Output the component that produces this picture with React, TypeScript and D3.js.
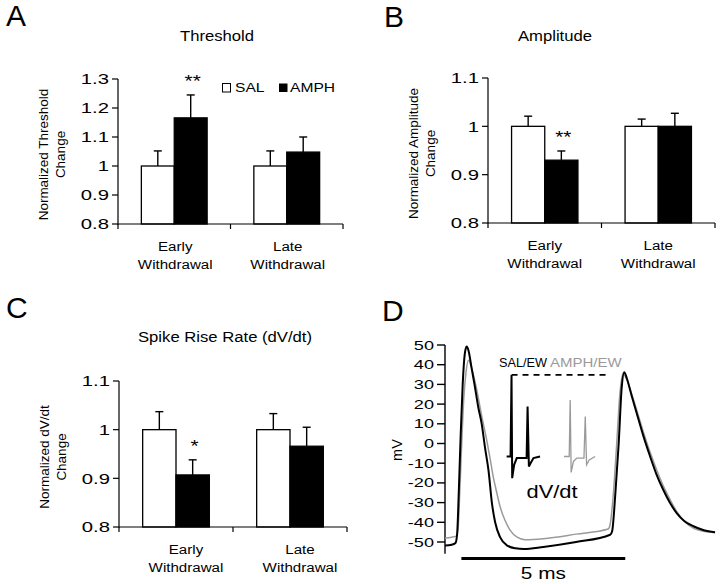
import React from "react";
import * as d3 from "d3";

// ---------- data ----------
const categoriesLine1 = ["Early", "Late"];
const categoriesLine2 = ["Withdrawal", "Withdrawal"];
const seriesNames = ["SAL", "AMPH"];

const thresholdTicks = [0.8, 0.9, 1, 1.1, 1.2, 1.3];
const unitTicks = [0.8, 0.9, 1, 1.1];
const mvTicks = [50, 40, 30, 20, 10, 0, -10, -20, -30, -40, -50];

const thresholdSal = [1.0, 1.0];
const thresholdSalErr = [0.052, 0.052];
const thresholdAmph = [1.166, 1.048];
const thresholdAmphErr = [0.079, 0.052];
const thresholdSig = ["**", ""];

const amplitudeSal = [1.0, 1.0];
const amplitudeSalErr = [0.021, 0.015];
const amplitudeAmph = [0.93, 1.0];
const amplitudeAmphErr = [0.019, 0.027];
const amplitudeSig = ["**", ""];

const riseSal = [1.0, 1.0];
const riseSalErr = [0.037, 0.033];
const riseAmph = [0.907, 0.966];
const riseAmphErr = [0.031, 0.039];
const riseSig = ["*", ""];

// action potential traces: [time ms, mV]
const salTrace: [number, number][] = [
  [0, -51.8], [0.2, -51.4], [0.32, -50.5], [0.37, -46], [0.42, -25], [0.48, 5], [0.54, 30],
  [0.6, 45], [0.66, 49.2], [0.72, 47], [0.81, 38.5], [0.9, 30], [1.02, 18], [1.12, 10],
  [1.22, -2], [1.33, -14], [1.43, -30], [1.53, -40], [1.68, -47.5], [1.9, -51.8], [2.15, -53.2],
  [2.4, -53.6], [3.0, -52.5], [4.0, -50.0], [5.04, -46.3], [5.1, -44.5], [5.2, -25], [5.3, 0],
  [5.39, 28], [5.47, 36.2], [5.55, 33], [5.7, 24], [5.85, 15.4], [6.05, 4], [6.26, -6.6],
  [6.45, -15.5], [6.66, -23.5], [6.86, -30], [7.07, -35.3], [7.3, -39.3], [7.58, -42],
  [7.9, -44], [8.24, -45],
];
const amphTrace: [number, number][] = [
  [0, -48], [0.2, -47.6], [0.34, -47], [0.4, -43], [0.45, -25], [0.51, 0], [0.57, 22],
  [0.64, 36], [0.72, 42.2], [0.8, 39], [0.97, 27.2], [1.12, 14], [1.27, 1.9], [1.37, -7],
  [1.47, -16.7], [1.58, -25], [1.68, -32], [1.83, -39], [1.98, -43.8], [2.2, -47.5],
  [2.45, -48.8], [3.0, -48.3], [4.0, -46], [4.98, -43.4], [5.04, -41], [5.14, -25], [5.24, 0],
  [5.33, 24], [5.44, 35.6], [5.52, 33.5], [5.68, 26], [5.85, 17], [6.05, 6], [6.26, -4.5],
  [6.46, -13.5], [6.66, -21.5], [6.87, -28.5], [7.07, -34.5], [7.3, -39.5], [7.6, -43.2],
  [7.9, -44.6], [8.24, -45.3],
];
// dV/dt insets, drawn in the same chart coordinates
const salInset: [number, number][] = [
  [1.88, -6.6], [2.0, -6.6], [2.03, 34.8], [2.05, -17.6], [2.11, -10.8], [2.19, -7.4],
  [2.49, -7.4], [2.52, 18.8], [2.56, -11.7], [2.61, -10], [2.7, -7.4], [2.9, -6.6],
];
const amphInset: [number, number][] = [
  [3.63, -6.6], [3.79, -6.6], [3.82, 22.1], [3.85, -14.7], [3.92, -9.1], [4.02, -7.4],
  [4.24, -7.4], [4.28, 13.7], [4.32, -10.8], [4.4, -8.3], [4.58, -6.6],
];
const insetPeakLine: [number, number][] = [[2.03, 34.8], [4.98, 34.8]];
const scaleBarMs: [number, number] = [0.5, 5.5];

const FONT = "'Liberation Sans', Arial, Helvetica, sans-serif";
const GRAY = "#9a9a9a";

function Label(props: {
  x: number; y: number; size: number; sx?: number; anchor?: string; fill?: string;
  rotate?: number; dy?: string; weight?: string | number; text: string;
}) {
  const { x, y, size, sx = 1, anchor = "start", fill = "#000", rotate = 0, dy, weight, text } = props;
  const t = `translate(${x},${y})` + (rotate ? ` rotate(${rotate})` : "") + (sx !== 1 ? ` scale(${sx},1)` : "");
  return (
    <text transform={t} fontSize={size} textAnchor={anchor as any} fill={fill} fontFamily={FONT} dy={dy} fontWeight={weight as any}>
      {text}
    </text>
  );
}

interface BarPanelProps {
  x0: number; x1: number; yTop: number; yBottom: number;
  domain: [number, number]; ticks: number[];
  sal: number[]; salErr: number[]; amph: number[]; amphErr: number[]; sig: string[];
  title: string; titleX: number; titleY: number; titleSx: number;
  yLabel: string[]; labelShift: number;
}

function BarPanel(p: BarPanelProps) {
  const y = d3.scaleLinear().domain(p.domain).range([p.yBottom, p.yTop]);
  const xg = d3.scaleBand<string>().domain(categoriesLine1).range([p.x0, p.x1]);
  const xs = d3.scaleBand<string>().domain(seriesNames).range([0, xg.bandwidth()]).paddingOuter(0.71);
  const fmt = d3.format("~g");
  const series = [
    { name: "SAL", vals: p.sal, errs: p.salErr, fill: "#fff" },
    { name: "AMPH", vals: p.amph, errs: p.amphErr, fill: "#000" },
  ];
  const bw = xs.bandwidth();
  const midY = (p.yTop + p.yBottom) / 2 + 3;
  return (
    <g>
      <Label x={p.titleX} y={p.titleY} size={14.5} sx={1.15} anchor="middle" text={p.title} />
      {/* y label */}
      <Label x={p.x0 - 70} y={midY} size={12.5} sx={1.08} anchor="middle" rotate={-90} text={p.yLabel[0]} />
      <Label x={p.x0 - 53} y={midY} size={12.5} sx={1.08} anchor="middle" rotate={-90} text={p.yLabel[1]} />
      {/* bars */}
      {series.map((s) =>
        categoriesLine1.map((c, i) => {
          const bx = (xg(c) as number) + (xs(s.name) as number);
          const top = y(s.vals[i]);
          const et = y(s.vals[i] + s.errs[i]);
          const cx = bx + bw / 2;
          return (
            <g key={s.name + c}>
              <line x1={cx} x2={cx} y1={top} y2={et} stroke="#000" strokeWidth={1.4} />
              <line x1={cx - 4} x2={cx + 4} y1={et} y2={et} stroke="#000" strokeWidth={1.4} />
              <rect x={bx} y={top} width={bw} height={p.yBottom - top} fill={s.fill} stroke="#000" strokeWidth={1.3} />
            </g>
          );
        })
      )}
      {/* significance */}
      {categoriesLine1.map((c, i) =>
        p.sig[i] ? (
          <Label key={"sig" + c} x={(xg(c) as number) + (xs("AMPH") as number) + bw / 2 + 2}
            y={y(p.amph[i] + p.amphErr[i]) - 15 + 7} size={16} sx={1.3} anchor="middle" text={p.sig[i]} />
        ) : null
      )}
      {/* y axis */}
      <line x1={p.x0} x2={p.x0} y1={p.yBottom + 0.5} y2={p.yTop} stroke="#000" strokeWidth={1.2} />
      {p.ticks.map((t) => (
        <g key={"t" + t}>
          <line x1={p.x0 - 6} x2={p.x0} y1={y(t)} y2={y(t)} stroke="#000" strokeWidth={1.2} />
          <Label x={p.x0 - 9} y={y(t)} dy="0.36em" size={14.5} sx={1.4} anchor="end" text={fmt(t)} />
        </g>
      ))}
      {/* x axis */}
      <line x1={p.x0} x2={p.x1} y1={p.yBottom} y2={p.yBottom} stroke="#000" strokeWidth={1.2} />
      {[p.x0, xg("Late") as number, p.x1].map((xx, i) => (
        <line key={"xt" + i} x1={xx} x2={xx} y1={p.yBottom} y2={p.yBottom + 5} stroke="#000" strokeWidth={1.2} />
      ))}
      {categoriesLine1.map((c, i) => {
        const cx = (xg(c) as number) + xg.bandwidth() / 2 + p.labelShift;
        return (
          <g key={"cl" + c}>
            <Label x={cx} y={p.yBottom + 27} size={13.5} sx={1.12} anchor="middle" text={c} />
            <Label x={cx} y={p.yBottom + 45} size={13.5} sx={1.12} anchor="middle" text={categoriesLine2[i]} />
          </g>
        );
      })}
    </g>
  );
}

function TracePanel() {
  const xT = d3.scaleLinear().domain([0, 8.3]).range([445, 717]);
  const yV = d3.scaleLinear().domain([-50, 50]).range([542, 345]);
  const smooth = d3.line<[number, number]>().x((d) => xT(d[0])).y((d) => yV(d[1])).curve(d3.curveMonotoneX);
  const straight = d3.line<[number, number]>().x((d) => xT(d[0])).y((d) => yV(d[1]));
  const x0 = xT(0);
  return (
    <g>
      {/* axis */}
      <line x1={x0} x2={x0} y1={yV(50)} y2={yV(-56)} stroke="#000" strokeWidth={1.4} />
      {mvTicks.map((t) => (
        <g key={"mv" + t}>
          <line x1={x0 - 8} x2={x0} y1={yV(t)} y2={yV(t)} stroke="#000" strokeWidth={1.4} />
          <Label x={x0 - 11} y={yV(t)} dy="0.36em" size={12.5} sx={1.45} anchor="end" text={String(t)} />
        </g>
      ))}
      <Label x={402} y={450} size={14.5} anchor="middle" rotate={-90} text="mV" />
      {/* traces */}
      <path d={smooth(amphTrace) || ""} fill="none" stroke={GRAY} strokeWidth={1.5} />
      <path d={smooth(salTrace) || ""} fill="none" stroke="#000" strokeWidth={2} />
      {/* insets */}
      <path d={straight(insetPeakLine) || ""} fill="none" stroke="#000" strokeWidth={1.8} strokeDasharray="6,5" />
      <path d={straight(amphInset) || ""} fill="none" stroke={GRAY} strokeWidth={1.3} />
      <path d={straight(salInset) || ""} fill="none" stroke="#000" strokeWidth={2} />
      <Label x={499} y={367} size={12.5} sx={1.02} text="SAL/EW" />
      <Label x={550} y={367} size={12.5} sx={1.2} fill={GRAY} text="AMPH/EW" />
      <Label x={552} y={498} size={19} sx={1.15} anchor="middle" text="dV/dt" />
      {/* scale bar */}
      <line x1={xT(scaleBarMs[0])} x2={xT(scaleBarMs[1])} y1={yV(-58.4)} y2={yV(-58.4)} stroke="#000" strokeWidth={3} />
      <Label x={xT((scaleBarMs[0] + scaleBarMs[1]) / 2)} y={579} size={16} sx={1.3} anchor="middle" text="5 ms" />
    </g>
  );
}

export default function App() {
  return (
    <svg width={720} height={584} style={{ position: "absolute", left: 0, top: 0, background: "#fff" }}>
      <rect x={0} y={0} width={720} height={584} fill="#fff" />
      <Label x={6} y={26} size={30} text="A" />
      <Label x={384} y={27} size={30} text="B" />
      <Label x={6} y={318} size={30} text="C" />
      <Label x={382} y={321} size={30} text="D" />

      <BarPanel x0={118} x1={343} yTop={79} yBottom={224} domain={[0.8, 1.3]} ticks={thresholdTicks}
        sal={thresholdSal} salErr={thresholdSalErr} amph={thresholdAmph} amphErr={thresholdAmphErr} sig={thresholdSig}
        title="Threshold" titleX={217} titleY={41} titleSx={1.18}
        yLabel={["Normalized Threshold", "Change"]} labelShift={1} />
      {/* legend */}
      <rect x={222.5} y={83.5} width={8} height={8.5} fill="#fff" stroke="#000" strokeWidth={1} />
      <Label x={235} y={92} size={13} sx={1.2} text={seriesNames[0]} />
      <rect x={279} y={83.5} width={8.5} height={8.5} fill="#000" />
      <Label x={290} y={92} size={13} sx={1.2} text={seriesNames[1]} />

      <BarPanel x0={488} x1={715} yTop={78} yBottom={223} domain={[0.8, 1.1]} ticks={unitTicks}
        sal={amplitudeSal} salErr={amplitudeSalErr} amph={amplitudeAmph} amphErr={amplitudeAmphErr} sig={amplitudeSig}
        title="Amplitude" titleX={555} titleY={41} titleSx={1.22}
        yLabel={["Normalized Amplitude", "Change"]} labelShift={0} />

      <BarPanel x0={119} x1={347} yTop={381} yBottom={527} domain={[0.8, 1.1]} ticks={unitTicks}
        sal={riseSal} salErr={riseSalErr} amph={riseAmph} amphErr={riseAmphErr} sig={riseSig}
        title="Spike Rise Rate (dV/dt)" titleX={225} titleY={342} titleSx={1.17}
        yLabel={["Normalized dV/dt", "Change"]} labelShift={10} />

      <TracePanel />
    </svg>
  );
}
